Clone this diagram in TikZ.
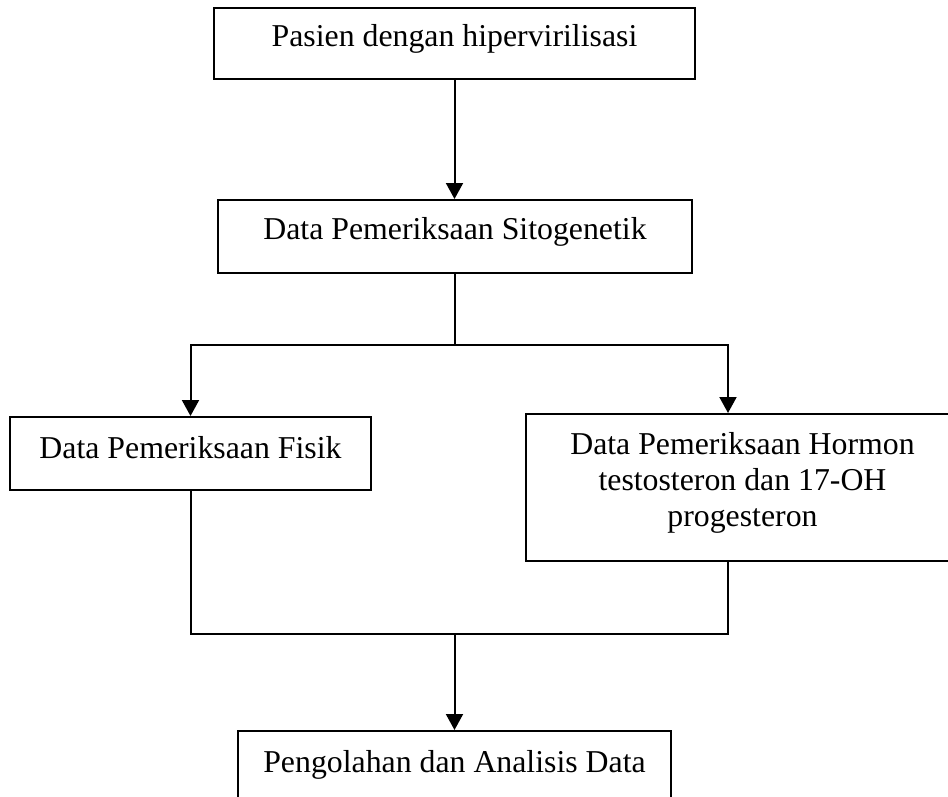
\documentclass[tikz,border=0pt]{standalone}
\usepackage{fontspec}
\setmainfont{Liberation Serif}
\usetikzlibrary{arrows.meta,calc}
\begin{document}
\begin{tikzpicture}[x=1pt,y=-1pt,
  box/.style={draw, line width=2pt, rectangle, inner sep=0pt},
  lbl/.style={font=\fontsize{31.8}{35.8}\selectfont, inner sep=0pt, anchor=base, align=center},
  link/.style={line width=2pt},
  arr/.style={link, -{Triangle[width=17pt,length=16pt]}}]
\useasboundingbox (0,0) rectangle (948,797);
\clip (0,0) rectangle (948,797);

% process boxes
\node[box, minimum width=481pt, minimum height=71pt]  (b1) at (454.5,43.5) {};
\node[box, minimum width=474pt, minimum height=73pt]  (b2) at (455,236.5) {};
\node[box, minimum width=361pt, minimum height=73pt]  (b3) at (190.5,453.5) {};
\node[box, minimum width=433pt, minimum height=147pt] (b4) at (742.5,487.5) {};
\node[box, minimum width=433pt, minimum height=73pt]  (b5) at (454.5,767.5) {};

% box texts (a multi-line node sits on its last baseline)
\node[lbl] (t1) at (454.5,47) {Pasien dengan hipervirilisasi};
\node[lbl] (t2) at (455,239) {Data Pemeriksaan Sitogenetik};
\node[lbl] (t3) at (190.5,458) {Data Pemeriksaan Fisik};
\node[lbl] (t4) at (742.5,526) {Data Pemeriksaan Hormon\\testosteron dan 17-OH\\progesteron};
\node[lbl] (t5) at (454.5,772) {Pengolahan dan Analisis Data};

% connectors
\coordinate (split) at (455,345);
\coordinate (h4in)  at ($(b4.north west)+(203,0)$);
\coordinate (h4out) at ($(b4.south west)+(203,0)$);
\coordinate (merge) at (454.5,634);

\draw[arr] (b1.south) -- (b1.south |- b2.north);
\draw[link] (b2.south) -- (split);
\draw[arr] (split) -| (b3.north);
\draw[arr] (split) -| (h4in);
\draw[link] (b3.south) |- (merge) -| (h4out);
\draw[arr] (merge) -- (b5.north);
\end{tikzpicture}
\end{document}
